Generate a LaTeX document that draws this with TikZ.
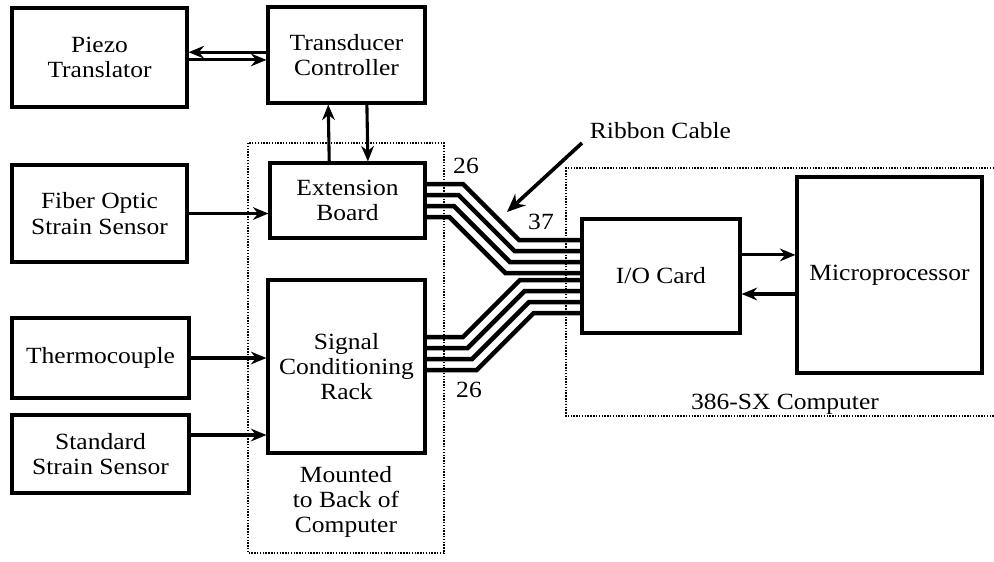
\documentclass[tikz,border=0pt]{standalone}
\usepackage{fontspec}
\setmainfont[FakeStretch=1.1]{Liberation Serif}
\usepackage{tikz}
\usetikzlibrary{arrows.meta,positioning}

\begin{document}
\begin{tikzpicture}[x=0.025cm,y=-0.025cm,
  every node/.style={font=\fontsize{16.5}{18}\selectfont},
  box/.style={draw,line width=2.2pt,align=center,inner sep=0pt},
  ar/.style={-{Stealth[length=11pt,width=9pt]},line width=2.2pt},
  wire/.style={line width=3.2pt,line join=miter},
  frame/.style={densely dotted,line width=1pt}]
\useasboundingbox (0,0) rectangle (994,561);
% dotted enclosures
\draw[frame] (248,143) rectangle (444,553);
\draw[frame] (994,168) -- (566,168) -- (566,416) -- (994,416);
% blocks
\node[box,minimum width=4.375cm,minimum height=2.475cm] (piezo) at (99.5,57.5) {Piezo\\Translator};
\node[box,minimum width=3.925cm,minimum height=2.4cm] (trans) at (346.5,55) {Transducer\\Controller};
\node[box,minimum width=4.375cm,minimum height=2.425cm] (fiber) at (99.5,213.5) {Fiber Optic\\Strain Sensor};
\node[box,minimum width=4.425cm,minimum height=2cm] (thermo) at (100.5,358) {Thermocouple};
\node[box,minimum width=4.425cm,minimum height=1.95cm] (std) at (100.5,454) {Standard\\Strain Sensor};
\node[box,minimum width=3.875cm,minimum height=1.875cm] (ext) at (347.5,200.5) {Extension\\Board};
\node[box,minimum width=3.925cm,minimum height=4.325cm] (sig) at (346.5,366.5) {Signal\\Conditioning\\Rack};
\node[box,minimum width=3.95cm,minimum height=2.85cm] (io) at (661,276) {I/O Card};
\node[box,minimum width=4.625cm,minimum height=4.9cm] (micro) at (889.5,275) {Microprocessor};
% labels
\node[align=center] (mount) at (346,502) {Mounted\\to Back of\\Computer};
\node (pc) at (785,404) {386-SX Computer};
\node[anchor=west] (rib) at (585,131) {Ribbon Cable};
\node (n26a) at (466,166) {26};
\node (n37) at (541,222) {37};
\node (n26b) at (469,390) {26};
% signal arrows
\draw[ar] ([yshift=2pt]trans.west) -- ([yshift=2pt]trans.west -| piezo.east);
\draw[ar] ([yshift=-3.5pt]trans.west -| piezo.east) -- ([yshift=-3.5pt]trans.west);
\draw[ar] ([xshift=-13pt]ext.north) -- ([xshift=-13pt]trans.south);
\draw[ar] ([xshift=14.5pt]trans.south) -- ([xshift=14.5pt]ext.north);
\draw[ar] (fiber.east) -- (fiber.east -| ext.west);
\draw[ar] (thermo.east) -- (thermo.east -| sig.west);
\draw[ar] ([yshift=13.5pt]std.east) -- ([yshift=13.5pt]std.east -| sig.west);
\draw[ar] ([yshift=15pt]io.east) -- ([yshift=15pt]io.east -| micro.west);
\draw[ar] ([yshift=-13.5pt]micro.west) -- ([yshift=-13.5pt]micro.west -| io.east);
% ribbon cable
\foreach \i in {0,...,3}{
  \pgfmathsetmacro\ys{184+11*\i}
  \pgfmathsetmacro\ye{240+11*\i}
  \pgfmathsetmacro\xa{463-4.56*\i}
  \draw[wire] (ext.east |- 0,\ys) -- (\xa,\ys) -- (\xa+56,\ye) -- (io.west |- 0,\ye);
}
\foreach \i in {0,...,3}{
  \pgfmathsetmacro\ys{337+11*\i}
  \pgfmathsetmacro\ye{280+11*\i}
  \pgfmathsetmacro\xa{463+4.56*\i}
  \draw[wire] (sig.east |- 0,\ys) -- (\xa,\ys) -- (\xa+57,\ye) -- (io.west |- 0,\ye);
}
\coordinate (ribtip) at (507,212);
\draw[-{Stealth[length=13pt,width=11pt]},line width=2.6pt] (rib.west) ++(-3,12) -- (ribtip);
\end{tikzpicture}
\end{document}
